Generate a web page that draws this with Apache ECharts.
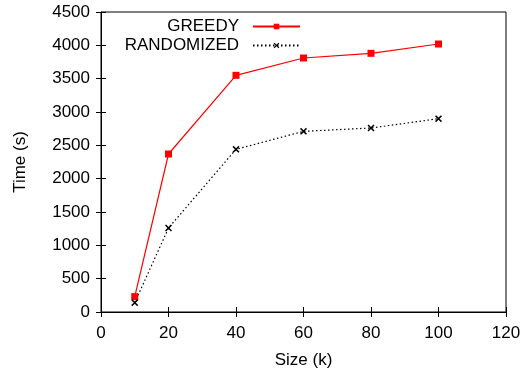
<!DOCTYPE html>
<html>
<head>
<meta charset="utf-8">
<script src="https://cdn.jsdelivr.net/npm/echarts@6/dist/echarts.min.js"></script>
<style>
  html, body { margin: 0; padding: 0; background: #fff; }
  #chart { width: 524px; height: 368px; }
</style>
</head>
<body>
<div id="chart"></div>
<script>
const sizes = [10, 20, 40, 60, 80, 100];
const greedy = [230, 2370, 3550, 3810, 3880, 4020];
const randomized = [140, 1260, 2440, 2710, 2760, 2900];

const font = "Liberation Sans, Arial, Helvetica, sans-serif";
const crossPath = "path://M0,1.5L1.5,0L5,3.5L8.5,0L10,1.5L6.5,5L10,8.5L8.5,10L5,6.5L1.5,10L0,8.5L3.5,5Z";

const chart = echarts.init(document.getElementById("chart"));

const tickStyle = { show: true, inside: true, length: 5, lineStyle: { color: "#000", width: 1 } };
const legendText = { fontSize: 17, color: "#000", fontFamily: font, padding: [0, 9, 0, 0], lineHeight: 19 };

const option = {
  backgroundColor: "#fff",
  animation: false,
  textStyle: { fontFamily: font },
  grid: {
    left: 101,
    right: 18,
    top: 12,
    bottom: 56,
    outerBoundsMode: "none",
    containLabel: false,
    show: true,
    borderColor: "#000",
    borderWidth: 1,
  },
  legend: [
    {
      data: ["GREEDY"],
      right: 218,
      top: 12,
      align: "right",
      itemWidth: 47,
      itemHeight: 7,
      textStyle: legendText,
    },
    {
      data: ["RANDOMIZED"],
      right: 218,
      top: 31,
      align: "right",
      itemWidth: 47,
      itemHeight: 7,
      textStyle: legendText,
    },
  ],
  xAxis: [
    {
      type: "value",
      min: 0,
      max: 120,
      interval: 20,
      name: "Size (k)",
      nameLocation: "middle",
      nameGap: 40,
      nameTextStyle: { fontSize: 17, color: "#000", fontFamily: font },
      axisLine: { show: true, onZero: false, lineStyle: { color: "#000", width: 1 } },
      axisTick: tickStyle,
      axisLabel: { fontSize: 17, color: "#000", margin: 13, fontFamily: font },
      splitLine: { show: false },
    },
    {
      type: "value",
      position: "top",
      min: 0,
      max: 120,
      interval: 20,
      axisLine: { show: false },
      axisTick: tickStyle,
      axisLabel: { show: false },
      splitLine: { show: false },
    },
  ],
  yAxis: [
    {
      type: "value",
      min: 0,
      max: 4500,
      interval: 500,
      name: "Time (s)",
      nameLocation: "middle",
      nameGap: 72,
      nameTextStyle: { fontSize: 17, color: "#000", fontFamily: font },
      axisLine: { show: true, onZero: false, lineStyle: { color: "#000", width: 1 } },
      axisTick: tickStyle,
      axisLabel: { fontSize: 17, color: "#000", margin: 11, fontFamily: font, formatter: (v) => String(v) },
      splitLine: { show: false },
    },
    {
      type: "value",
      position: "right",
      min: 0,
      max: 4500,
      interval: 500,
      axisLine: { show: false },
      axisTick: tickStyle,
      axisLabel: { show: false },
      splitLine: { show: false },
    },
  ],
  series: [
    {
      name: "GREEDY",
      type: "line",
      data: sizes.map((s, i) => [s, greedy[i]]),
      symbol: "rect",
      symbolSize: 7,
      lineStyle: { color: "#ff0000", width: 1.2 },
      itemStyle: { color: "#ff0000" },
    },
    {
      name: "RANDOMIZED",
      type: "line",
      data: sizes.map((s, i) => [s, randomized[i]]),
      symbol: crossPath,
      symbolSize: 7,
      lineStyle: { color: "#000", width: 1.2, type: [1.5, 2.5] },
      itemStyle: { color: "#000" },
    },
  ],
};

chart.setOption(option);
</script>
</body>
</html>
